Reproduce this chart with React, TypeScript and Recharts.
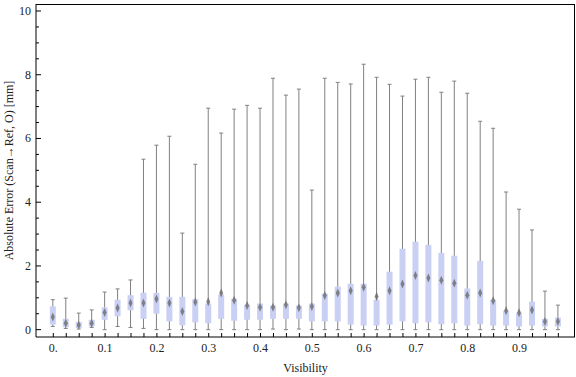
import { ComposedChart, Bar, XAxis, YAxis, Label } from 'recharts';

// visibility bins (one box per bin)
const visibility = [
    0, 0.025, 0.05, 0.075, 0.1, 0.125, 0.15, 0.175, 0.2, 0.225,
    0.25, 0.275, 0.3, 0.325, 0.35, 0.375, 0.4, 0.425, 0.45, 0.475,
    0.5, 0.525, 0.55, 0.575, 0.6, 0.625, 0.65, 0.675, 0.7, 0.725,
    0.75, 0.775, 0.8, 0.825, 0.85, 0.875, 0.9, 0.925, 0.95, 0.975,
];

// absolute error [mm] per bin
const whiskerMin = [
    0.10, 0.04, 0.02, 0.07, 0.00, 0.10, 0.07, 0.04, 0.00, 0.00,
    0.00, 0.00, 0.00, 0.00, 0.00, 0.00, 0.00, 0.02, 0.00, 0.02,
    0.00, 0.00, 0.00, 0.00, 0.00, 0.00, 0.00, 0.00, 0.00, 0.00,
    0.00, 0.00, 0.00, 0.00, 0.00, 0.00, 0.00, 0.00, 0.00, 0.00,
];
const boxLow = [
    0.16, 0.08, 0.05, 0.10, 0.31, 0.42, 0.61, 0.34, 0.50, 0.26,
    0.14, 0.23, 0.20, 0.34, 0.28, 0.31, 0.31, 0.34, 0.34, 0.34,
    0.26, 0.26, 0.26, 0.16, 0.13, 0.13, 0.16, 0.26, 0.20, 0.23,
    0.17, 0.20, 0.13, 0.17, 0.13, 0.13, 0.10, 0.13, 0.10, 0.10,
];
const meanValue = [
    0.40, 0.20, 0.15, 0.20, 0.54, 0.68, 0.84, 0.84, 0.96, 0.84,
    0.57, 0.87, 0.88, 1.15, 0.92, 0.76, 0.70, 0.70, 0.78, 0.69,
    0.73, 1.07, 1.15, 1.22, 1.33, 1.04, 1.22, 1.43, 1.70, 1.62,
    1.55, 1.46, 1.08, 1.15, 0.91, 0.59, 0.53, 0.62, 0.26, 0.26,
];
const boxHigh = [
    0.73, 0.34, 0.24, 0.31, 0.70, 0.94, 1.08, 1.16, 1.15, 1.03,
    1.03, 0.96, 0.82, 1.10, 0.97, 0.78, 0.82, 0.76, 0.82, 0.76,
    0.82, 1.13, 1.35, 1.44, 1.44, 0.94, 1.82, 2.54, 2.76, 2.66,
    2.41, 2.32, 1.29, 2.16, 0.94, 0.60, 0.53, 0.88, 0.34, 0.38,
];
const whiskerMax = [
    0.94, 0.99, 0.52, 0.62, 1.18, 1.28, 1.56, 5.35, 5.79, 6.07,
    3.03, 5.19, 6.95, 6.17, 6.92, 7.04, 6.95, 7.89, 7.36, 7.55,
    4.38, 7.89, 7.76, 7.71, 8.33, 7.92, 7.70, 7.33, 7.86, 7.92,
    7.45, 7.80, 7.42, 6.54, 6.32, 4.32, 3.78, 3.13, 1.21, 0.77,
];

const xLabelValues = [0, 0.1, 0.2, 0.3, 0.4, 0.5, 0.6, 0.7, 0.8, 0.9];
const xLabelText = ['0.', '0.1', '0.2', '0.3', '0.4', '0.5', '0.6', '0.7', '0.8', '0.9'];
const yTickValues = [
    0, 0.5, 1, 1.5, 2, 2.5, 3, 3.5, 4, 4.5, 5,
    5.5, 6, 6.5, 7, 7.5, 8, 8.5, 9, 9.5, 10,
];
const yLabelValues = [0, 2, 4, 6, 8, 10];

const data = visibility.map((v, i) => ({
    v,
    range: [whiskerMin[i], whiskerMax[i]],
    lo: boxLow[i],
    mean: meanValue[i],
    hi: boxHigh[i],
}));

const FONT = '"Liberation Serif", "Times New Roman", serif';
const FRAME = '#000';
const WHISKER = '#808080';
const BOX = '#c9d0f4';
const X_DOMAIN = [-0.0334, 1.0071];
const Y_DOMAIN = [-0.23, 10.22];

const W = 576;
const H = 377;
const MARGIN = { top: 4, right: 1, bottom: 0, left: 6 };
const Y_AXIS_W = 30;
const X_AXIS_H = 40;

const renderBox = (props: any) => {
    const { x, y, width, height, payload } = props;
    const [mn, mx] = payload.range;
    const toY = (val: number) => (mx === mn ? y : y + (height * (mx - val)) / (mx - mn));
    const cx = x + width / 2;
    const yLo = toY(payload.lo);
    const yHi = toY(payload.hi);
    const yMean = toY(payload.mean);
    return (
        <g>
            <line x1={cx} x2={cx} y1={y} y2={y + height} stroke={WHISKER} strokeWidth={1} />
            <line x1={cx - 2} x2={cx + 2} y1={y} y2={y} stroke={WHISKER} strokeWidth={1} />
            <line x1={cx - 2} x2={cx + 2} y1={y + height} y2={y + height} stroke={WHISKER} strokeWidth={1} />
            <rect x={x} y={yHi} width={width} height={Math.max(yLo - yHi, 0.5)} fill={BOX} />
            <polygon
                points={`${cx},${yMean - 4.5} ${cx + 2},${yMean} ${cx},${yMean + 4.5} ${cx - 2},${yMean}`}
                fill="#6a6a6a"
                fillOpacity={0.8}
            />
        </g>
    );
};

const isLabelX = (v: number) => xLabelValues.findIndex((l) => Math.abs(l - v) < 1e-6);

const renderBottomTick = (props: any) => {
    const { x, y, payload } = props;
    const idx = isLabelX(payload.value);
    return (
        <g>
            <line x1={x} x2={x} y1={y} y2={y - 4} stroke={FRAME} />
            {idx >= 0 && (
                <text x={x} y={y + 15} textAnchor="middle" fontFamily={FONT} fontSize={12} fill="#222">
                    {xLabelText[idx]}
                </text>
            )}
        </g>
    );
};

const renderLeftTick = (props: any) => {
    const { x, y, payload } = props;
    const major = yLabelValues.includes(payload.value);
    return (
        <g>
            <line x1={x} x2={x + (major ? 5 : 3)} y1={y} y2={y} stroke={FRAME} />
            {major && (
                <text x={x - 5} y={y + 4} textAnchor="end" fontFamily={FONT} fontSize={12} fill="#222">
                    {payload.value}
                </text>
            )}
        </g>
    );
};

const renderYTitle = (props: any) => {
    const vb = props.viewBox;
    const cy = vb.y + vb.height / 2;
    return (
        <text
            x={9}
            y={cy}
            transform={`rotate(-90, 9, ${cy})`}
            textAnchor="middle"
            dominantBaseline="central"
            fontFamily={FONT}
            fontSize={12}
            fill="#222"
        >
            Absolute Error (Scan→Ref, O) [mm]
        </text>
    );
};

const renderXTitle = (props: any) => {
    const vb = props.viewBox;
    return (
        <text x={vb.x + vb.width / 2} y={372} textAnchor="middle" fontFamily={FONT} fontSize={12} fill="#222">
            Visibility
        </text>
    );
};

export default function App() {
    const plotX = MARGIN.left + Y_AXIS_W;
    const plotY = MARGIN.top;
    const plotW = W - plotX - MARGIN.right;
    const plotH = H - MARGIN.top - MARGIN.bottom - X_AXIS_H;
    return (
        <div style={{ position: 'absolute', left: 0, top: 0, width: W, height: H, background: '#fff' }}>
            <ComposedChart width={W} height={H} data={data} margin={MARGIN}>
                <XAxis
                    dataKey="v"
                    type="number"
                    domain={X_DOMAIN}
                    ticks={visibility}
                    interval={0}
                    tickSize={0}
                    tickMargin={0}
                    height={X_AXIS_H}
                    axisLine={{ stroke: FRAME }}
                    tickLine={false}
                    tick={renderBottomTick}
                >
                    <Label content={renderXTitle} />
                </XAxis>
                <YAxis
                    type="number"
                    domain={Y_DOMAIN}
                    ticks={yTickValues}
                    interval={0}
                    tickSize={0}
                    tickMargin={0}
                    width={Y_AXIS_W}
                    axisLine={{ stroke: FRAME }}
                    tickLine={false}
                    tick={renderLeftTick}
                >
                    <Label content={renderYTitle} />
                </YAxis>
                <Bar dataKey="range" barSize={6} shape={renderBox} isAnimationActive={false} />
            </ComposedChart>
            {/* plot frame (top and right edges) drawn as an overlay */}
            <div
                style={{
                    position: 'absolute',
                    left: plotX,
                    top: plotY,
                    width: plotW,
                    height: plotH,
                    boxSizing: 'border-box',
                    borderTop: `1px solid ${FRAME}`,
                    borderRight: `1px solid ${FRAME}`,
                    pointerEvents: 'none',
                }}
            />
        </div>
    );
}
